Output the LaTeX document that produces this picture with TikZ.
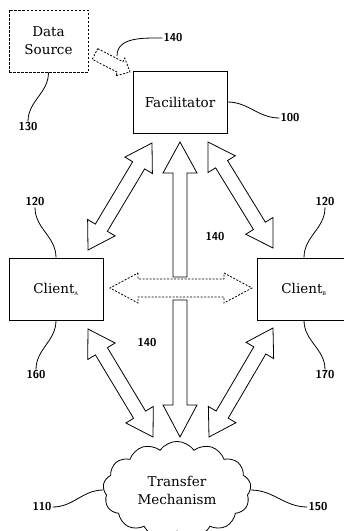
\documentclass[tikz,border=0pt]{standalone}
\usepackage{fontspec}
\setmainfont{DejaVu Serif}
\usetikzlibrary{calc,shapes.symbols}
\tikzset{
  box/.style={draw, line width=0.8pt, minimum width=94pt, minimum height=62pt, align=center, font=\fontsize{13.5}{18}\selectfont},
  srcbox/.style={box, minimum width=79pt, dash pattern=on 2.5pt off 1.5pt},
  num/.style={font=\sffamily\bfseries\fontsize{11.5}{14}\selectfont, inner sep=1pt},
  lead/.style={line width=0.8pt},
  fat/.style={draw, line width=0.8pt, fill=white},
  % #1 head length, #2 half head width, #3 half shaft width
  twoway/.style n args={3}{to path={
    ($(\tikztostart)!#1!(\tikztotarget)!#2!90:(\tikztotarget)$)
    -- ($(\tikztostart)!#1!(\tikztotarget)!#3!90:(\tikztotarget)$)
    -- ($(\tikztotarget)!#1!(\tikztostart)!#3!-90:(\tikztostart)$)
    -- ($(\tikztotarget)!#1!(\tikztostart)!#2!-90:(\tikztostart)$)
    -- (\tikztotarget)
    -- ($(\tikztotarget)!#1!(\tikztostart)!#2!90:(\tikztostart)$)
    -- ($(\tikztotarget)!#1!(\tikztostart)!#3!90:(\tikztostart)$)
    -- ($(\tikztostart)!#1!(\tikztotarget)!#3!-90:(\tikztotarget)$)
    -- ($(\tikztostart)!#1!(\tikztotarget)!#2!-90:(\tikztotarget)$)
    -- (\tikztostart) -- cycle}},
  oneway/.style n args={3}{to path={
    ($(\tikztostart)!#3!90:(\tikztotarget)$)
    -- ($(\tikztotarget)!#1!(\tikztostart)!#3!-90:(\tikztostart)$)
    -- ($(\tikztotarget)!#1!(\tikztostart)!#2!-90:(\tikztostart)$)
    -- (\tikztotarget)
    -- ($(\tikztotarget)!#1!(\tikztostart)!#2!90:(\tikztostart)$)
    -- ($(\tikztotarget)!#1!(\tikztostart)!#3!90:(\tikztostart)$)
    -- ($(\tikztostart)!#3!-90:(\tikztotarget)$) -- cycle}},
}
\begin{document}
\begin{tikzpicture}[x=1pt, y=1pt]
    \useasboundingbox (0,0) rectangle (344,-531);

    % boxes
    \node[srcbox] (src) at (48.5,-41) {Data\\Source};
    \node[box] (fac) at (180,-102) {Facilitator};
    \node[box] (cla) at (56,-289) {Client\textsubscript{\tiny A}};
    \node[box] (clb) at (304,-289) {Client\textsubscript{\tiny B}};
    \node[cloud, draw, line width=0.8pt, cloud puffs=13, cloud puff arc=110, aspect=1.3,
          inner sep=0pt, minimum width=148pt, align=center,
          font=\fontsize{13.5}{18}\selectfont] (net) at (177,-490) {Transfer\\Mechanism};

    % arrow ends
    \coordinate (srcT) at (95,-54);   \coordinate (srcH) at (130,-72);
    \coordinate (upB) at (180,-277);  \coordinate (upH) at (180,-142);
    \coordinate (dnB) at (180,-300);  \coordinate (dnH) at (180,-437);
    \coordinate (tl1) at (152,-143);  \coordinate (tl2) at (88,-250);
    \coordinate (tr1) at (208,-142);  \coordinate (tr2) at (273,-248);
    \coordinate (bl1) at (88,-329);   \coordinate (bl2) at (153,-437);
    \coordinate (br1) at (273,-328);  \coordinate (br2) at (209,-437);
    \coordinate (hzA) at (110,-288);  \coordinate (hzB) at (252,-288);

    \draw[fat, dash pattern=on 2pt off 1.5pt, oneway={11pt}{10pt}{6pt}] (srcT) to (srcH);
    \draw[fat, oneway={31pt}{17pt}{7pt}] (upB) to (upH);
    \draw[fat, oneway={32pt}{17pt}{7pt}] (dnB) to (dnH);
    \draw[fat, twoway={26pt}{16pt}{7pt}] (tl1) to (tl2);
    \draw[fat, twoway={26pt}{16pt}{7pt}] (tr1) to (tr2);
    \draw[fat, twoway={26pt}{16pt}{7pt}] (bl1) to (bl2);
    \draw[fat, twoway={26pt}{16pt}{7pt}] (br1) to (br2);
    \draw[fat, dash pattern=on 2pt off 1.5pt, twoway={28pt}{15pt}{9pt}] (hzA) to (hzB);

    % reference numbers
    \node[num] (n140a) at (173,-38) {140};
    \node[num] (n100) at (290,-118) {100};
    \node[num] (n130) at (28,-127) {130};
    \node[num] (n120a) at (35,-202) {120};
    \node[num] (n120b) at (325,-202) {120};
    \node[num] (n160) at (36,-375) {160};
    \node[num] (n170) at (325,-375) {170};
    \node[num] (n140b) at (215,-237) {140};
    \node[num] (n140c) at (147,-343) {140};
    \node[num] (n110) at (42,-507) {110};
    \node[num] (n150) at (318,-507) {150};

    % leaders
    \coordinate (c140) at (117,-56);
    \draw[lead] (c140) to[out=90,in=180] (n140a.west);
    \draw[lead] (fac.east) to[out=0,in=180] (n100.west);
    \draw[lead] (src.south) to[out=-90,in=90] (n130.north);
    \draw[lead] (cla.north) to[out=90,in=-90] (n120a.south);
    \draw[lead] (cla.south) to[out=-90,in=90] (n160.north);
    \draw[lead] (clb.north) to[out=90,in=-90] (n120b.south);
    \draw[lead] (clb.south) to[out=-90,in=90] (n170.north);
    \draw[lead] (net.west) to[out=180,in=0] (n110.east);
    \draw[lead] (net.east) to[out=0,in=180] (n150.west);
\end{tikzpicture}
\end{document}
